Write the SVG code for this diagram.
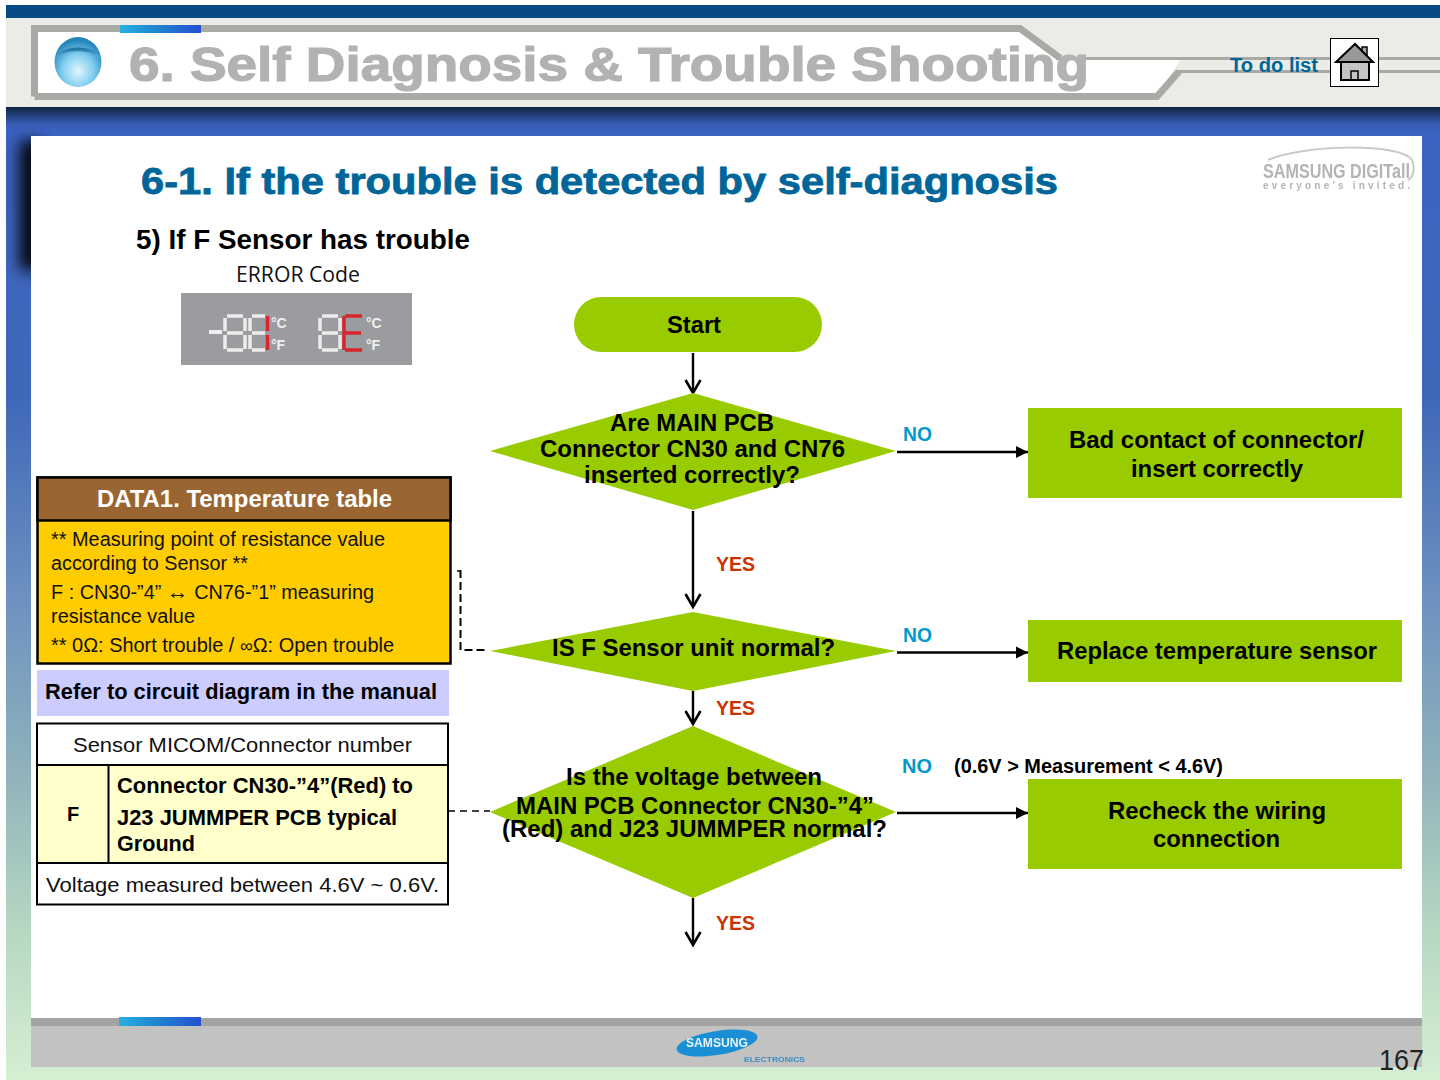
<svg xmlns="http://www.w3.org/2000/svg" width="1440" height="1080" viewBox="0 0 1440 1080">
<style>
text{font-family:"Liberation Sans",Arial,sans-serif}
.b{font-weight:bold}
.q{font-weight:bold;font-size:24px;fill:#000}
.c{font-size:20px;fill:#111}
.no{font-weight:bold;font-size:20px;fill:#0099cc}
.yes{font-weight:bold;font-size:20px;fill:#cc3300}
.g{fill:#99cc00}
.l{stroke:#000;stroke-width:2.400;fill:none}
.d{stroke:#000;stroke-width:2;fill:none;stroke-dasharray:8 4}
.seg{fill:none;stroke:#ececec;stroke-width:3.500}
.red{fill:none;stroke:#d8262c;stroke-width:3.500}
.deg{font-size:14px;fill:#f0f0f0;font-weight:bold}
</style>
<defs>
<linearGradient id="bg" gradientUnits="userSpaceOnUse" x1="0" y1="107" x2="0" y2="1080">
<stop offset="0" stop-color="#3c62c4"/><stop offset=".3" stop-color="#3f68b8"/><stop offset=".5" stop-color="#6c90c0"/><stop offset=".68" stop-color="#8fb2bb"/><stop offset=".85" stop-color="#b8d8c2"/><stop offset="1" stop-color="#d6eed2"/>
</linearGradient>
<linearGradient id="top" x1="0" y1="0" x2="0" y2="1"><stop offset="0" stop-color="#0f2440"/><stop offset=".55" stop-color="#3558ae"/><stop offset="1" stop-color="#3c62c4" stop-opacity="0"/></linearGradient>
<linearGradient id="strip" x1="0" y1="0" x2="1" y2="0"><stop offset="0" stop-color="#28b0e0"/><stop offset=".5" stop-color="#1f80d0"/><stop offset="1" stop-color="#2450d0"/></linearGradient>
<radialGradient id="ball" cx=".5" cy=".68" r=".62"><stop offset="0" stop-color="#e2f6fc"/><stop offset=".55" stop-color="#7fcdf0"/><stop offset="1" stop-color="#2484b8"/></radialGradient>
<linearGradient id="cap" x1="0" y1="0" x2="0" y2="1"><stop offset="0" stop-color="#1c6f9f"/><stop offset="1" stop-color="#5cb8e6"/></linearGradient>
<filter id="blur" x="-20%" y="-50%" width="140%" height="200%"><feGaussianBlur stdDeviation=".6"/></filter>
<filter id="soft" x="-100%" y="-50%" width="300%" height="200%"><feGaussianBlur stdDeviation="8"/></filter>
<marker id="open" markerWidth="18" markerHeight="18" refX="14" refY="9" orient="auto" markerUnits="userSpaceOnUse"><path d="M1 1.500L14 9L1 16.500" fill="none" stroke="#000" stroke-width="2.600"/></marker>
<marker id="tri" markerWidth="14" markerHeight="14" refX="12" refY="7" orient="auto" markerUnits="userSpaceOnUse"><path d="M0 1L12 7L0 13Z" fill="#000"/></marker>
</defs>

<g id="background">
<rect width="1440" height="1080" fill="#fff"/>
<rect x="6" y="107" width="1434" height="973" fill="url(#bg)"/>
<rect x="20" y="140" width="22" height="130" fill="#000" filter="url(#soft)"/>
<rect x="6" y="107" width="1434" height="29" fill="url(#top)"/>
<rect x="6" y="5" width="1434" height="13" fill="#054a85"/>
<rect x="6" y="18" width="1434" height="89" fill="#ecece6"/>
<rect x="31" y="136" width="1391" height="890" fill="#fff"/>
</g>

<g id="header">
<path d="M35 29H1019L1062 60H1180L1157 96.500H35Z" fill="#fff"/>
<path d="M34.500 96.500V28.500H1020L1060 58" fill="none" stroke="#a8aaa6" stroke-width="7"/>
<path d="M34.500 96.500H1157L1179 71.500" fill="none" stroke="#a8aaa6" stroke-width="7"/>
<path d="M1056 58.500H1440M1177 71.500H1440" fill="none" stroke="#a8aaa6" stroke-width="3"/>
<rect x="120" y="25" width="81" height="8" fill="url(#strip)"/>
<ellipse cx="78" cy="62" rx="23.500" ry="25" fill="url(#ball)"/>
<path d="M56 58C60 44 96 44 100 58C92 49 64 49 56 58Z" fill="url(#cap)"/>
<text class="b" x="129" y="81" font-size="48" fill="#b2b2b2" stroke="#b2b2b2" stroke-width="1.200" textLength="960" lengthAdjust="spacingAndGlyphs">6. Self Diagnosis &amp; Trouble Shooting</text>
<text class="b" x="1230" y="72" font-size="20" fill="#006699" textLength="88" lengthAdjust="spacingAndGlyphs">To do list</text>
</g>

<g id="home">
<rect x="1330.500" y="38.500" width="48" height="48" fill="#fff" stroke="#000"/>
<rect x="1362" y="47" width="5" height="10" fill="#aaa" stroke="#000" stroke-width="1.500"/>
<rect x="1341" y="62" width="28" height="18" fill="#c4c4c4" stroke="#000" stroke-width="2"/>
<path d="M1336 62L1355 44L1373 62Z" fill="#999" stroke="#000" stroke-width="2"/>
<path d="M1351 80V71H1358V80" fill="none" stroke="#000" stroke-width="1.500"/>
</g>

<g id="brand">
<path d="M1268 160C1300 145 1400 142 1412 160C1416 170 1412 178 1408 180" fill="none" stroke="#c8c8c8" stroke-width="2"/>
<text class="b" x="1263" y="178" font-size="20" fill="#b4b4b4" textLength="147" lengthAdjust="spacingAndGlyphs" filter="url(#blur)">SAMSUNG DIGITall</text>
<text class="b" x="1263" y="189" font-size="10" fill="#b4b4b4" textLength="147" lengthAdjust="spacing" filter="url(#blur)">everyone's invited.</text>
</g>

<g id="headings">
<text class="b" x="141" y="194" font-size="36" fill="#006699" stroke="#006699" stroke-width=".8" textLength="917" lengthAdjust="spacingAndGlyphs">6-1. If the trouble is detected by self-diagnosis</text>
<text class="b" x="136" y="249" font-size="27" fill="#000" textLength="334" lengthAdjust="spacingAndGlyphs">5) If F Sensor has trouble</text>
<text x="236" y="282" font-size="22" fill="#111" style="font-family:'Open Sans',sans-serif" textLength="124" lengthAdjust="spacingAndGlyphs">ERROR Code</text>
</g>

<g id="error-display">
<rect x="181" y="293" width="231" height="72" fill="#9a9c9f"/>
<path d="M209 332H222" stroke="#f0f0f0" stroke-width="4" fill="none"/>
<path class="seg" d="M227 316H243M225 318V331M245 318V331M227 333H243M225 335V349M245 335V349M227 350H243"/>
<path class="seg" d="M252 316H265M250 318V331M250 335V349M252 333H265M252 350H265"/>
<path class="red" d="M267.500 316V331M267.500 335V350"/>
<text class="deg" x="271" y="328">°C</text><text class="deg" x="271" y="350">°F</text>
<path class="seg" d="M322 316H338M320 318V331M340 318V331M322 333H338M320 335V349M340 335V349M322 350H338"/>
<path class="red" d="M345 316H362M345 333H361M345 350H362M344 316V350"/>
<text class="deg" x="366" y="328">°C</text><text class="deg" x="366" y="350">°F</text>
</g>

<g id="connectors">
<path class="l" d="M693 353V393" marker-end="url(#open)"/>
<path class="l" d="M693 511V607" marker-end="url(#open)"/>
<path class="l" d="M693 691V724" marker-end="url(#open)"/>
<path class="l" d="M693 898V945" marker-end="url(#open)"/>
<path class="l" d="M897 452H1028" marker-end="url(#tri)"/>
<path class="l" d="M897 652.500H1028" marker-end="url(#tri)"/>
<path class="l" d="M897 813H1028" marker-end="url(#tri)"/>
<path class="d" d="M460.500 570V650H488"/>
<path d="M457 571H461" stroke="#000" stroke-width="1.500"/>
<path d="M448 811H490" stroke="#000" stroke-width="1.500" stroke-dasharray="7 5" fill="none"/>
</g>

<g id="start">
<rect class="g" x="574" y="297" width="248" height="55" rx="27.500"/>
<text class="q" x="667" y="333" textLength="54" lengthAdjust="spacingAndGlyphs">Start</text>
</g>

<g id="decision-connector">
<path class="g" d="M490 451L693 393L896 451L693 510Z"/>
<text class="q" x="610" y="431" textLength="164" lengthAdjust="spacingAndGlyphs">Are MAIN PCB</text>
<text class="q" x="540" y="457" textLength="305" lengthAdjust="spacingAndGlyphs">Connector CN30 and CN76</text>
<text class="q" x="584" y="483" textLength="216" lengthAdjust="spacingAndGlyphs">inserted correctly?</text>
</g>
<g id="decision-sensor">
<path class="g" d="M490 651L693 612L896 651L693 691Z"/>
<text class="q" x="552" y="656" textLength="283" lengthAdjust="spacingAndGlyphs">IS F Sensor unit normal?</text>
</g>
<g id="decision-voltage">
<path class="g" d="M490 812L693 726L896 812L693 898Z"/>
<text class="q" x="566" y="785" textLength="256" lengthAdjust="spacingAndGlyphs">Is the voltage between</text>
<text class="q" x="516" y="814" textLength="358" lengthAdjust="spacingAndGlyphs">MAIN PCB Connector CN30-”4”</text>
<text class="q" x="502" y="837" textLength="385" lengthAdjust="spacingAndGlyphs">(Red) and J23 JUMMPER normal?</text>
</g>

<g id="box-bad-contact">
<rect class="g" x="1028" y="408" width="374" height="90"/>
<text class="q" x="1069" y="448" textLength="295" lengthAdjust="spacingAndGlyphs">Bad contact of connector/</text>
<text class="q" x="1131" y="477" textLength="172" lengthAdjust="spacingAndGlyphs">insert correctly</text>
</g>
<g id="box-replace">
<rect class="g" x="1028" y="620" width="374" height="62"/>
<text class="q" x="1057" y="659" textLength="320" lengthAdjust="spacingAndGlyphs">Replace temperature sensor</text>
</g>
<g id="box-recheck">
<rect class="g" x="1028" y="779" width="374" height="90"/>
<text class="q" x="1108" y="819" textLength="218" lengthAdjust="spacingAndGlyphs">Recheck the wiring</text>
<text class="q" x="1153" y="847" textLength="127" lengthAdjust="spacingAndGlyphs">connection</text>
</g>

<g id="labels">
<text class="no" x="903" y="441" textLength="29" lengthAdjust="spacingAndGlyphs">NO</text>
<text class="no" x="903" y="642" textLength="29" lengthAdjust="spacingAndGlyphs">NO</text>
<text class="no" x="902" y="773" textLength="30" lengthAdjust="spacingAndGlyphs">NO</text>
<text class="b" x="954" y="773" font-size="20" fill="#000" textLength="269" lengthAdjust="spacingAndGlyphs">(0.6V &gt; Measurement &lt; 4.6V)</text>
<text class="yes" x="716" y="571" textLength="39" lengthAdjust="spacingAndGlyphs">YES</text>
<text class="yes" x="716" y="715" textLength="39" lengthAdjust="spacingAndGlyphs">YES</text>
<text class="yes" x="716" y="930" textLength="39" lengthAdjust="spacingAndGlyphs">YES</text>
</g>

<g id="data-table">
<rect x="37.500" y="477.500" width="413" height="186" fill="#ffcc00" stroke="#000" stroke-width="2.500"/>
<rect x="37.500" y="477.500" width="413" height="43" fill="#996633" stroke="#000" stroke-width="2.500"/>
<text class="b" x="97" y="507" font-size="24" fill="#fff" textLength="295" lengthAdjust="spacingAndGlyphs">DATA1. Temperature table</text>
<text class="c" x="51" y="546" textLength="334" lengthAdjust="spacingAndGlyphs">** Measuring point of resistance value</text>
<text class="c" x="51" y="570" textLength="197" lengthAdjust="spacingAndGlyphs">according to Sensor **</text>
<text class="c" x="51" y="599" textLength="323" lengthAdjust="spacingAndGlyphs">F : CN30-”4” <tspan font-size="22">↔</tspan> CN76-”1” measuring</text>
<text class="c" x="51" y="623" textLength="144" lengthAdjust="spacingAndGlyphs">resistance value</text>
<text class="c" x="51" y="652" textLength="343" lengthAdjust="spacingAndGlyphs">** 0Ω: Short trouble / <tspan font-size="18">∞</tspan>Ω: Open trouble</text>
</g>

<g id="refer-note">
<rect x="37" y="670" width="412" height="46" fill="#ccccff"/>
<text class="b" x="45" y="699" font-size="22" fill="#000" textLength="392" lengthAdjust="spacingAndGlyphs">Refer to circuit diagram in the manual</text>
</g>

<g id="sensor-table">
<rect x="37" y="723" width="411" height="182" fill="#fff"/>
<rect x="37" y="765" width="411" height="98" fill="#ffffcc"/>
<path d="M37 723.500H448V904.500H37ZM37 765H448M37 863H448M108.500 765V863" fill="none" stroke="#000" stroke-width="2"/>
<text class="c" x="73" y="752" font-size="21" textLength="339" lengthAdjust="spacingAndGlyphs">Sensor MICOM/Connector number</text>
<text class="b" x="67" y="821" font-size="20" fill="#000">F</text>
<text class="b" x="117" y="793" font-size="22" fill="#000" textLength="296" lengthAdjust="spacingAndGlyphs">Connector CN30-”4”(Red) to</text>
<text class="b" x="117" y="825" font-size="22" fill="#000" textLength="280" lengthAdjust="spacingAndGlyphs">J23 JUMMPER PCB typical</text>
<text class="b" x="117" y="851" font-size="22" fill="#000" textLength="78" lengthAdjust="spacingAndGlyphs">Ground</text>
<text class="c" x="46" y="892" font-size="21" textLength="393" lengthAdjust="spacingAndGlyphs">Voltage measured between 4.6V ~ 0.6V.</text>
</g>

<g id="footer">
<rect x="31" y="1018" width="1391" height="49" fill="#c2c2c0"/>
<rect x="31" y="1018" width="1391" height="8" fill="#a3a3a3"/>
<rect x="119" y="1017" width="82" height="9" fill="url(#strip)"/>
<ellipse cx="717" cy="1043" rx="41" ry="12" fill="#1b8fd6" transform="rotate(-9 717 1043)"/>
<text class="b" x="686" y="1047" font-size="13" fill="#e8f4fc" textLength="62" lengthAdjust="spacingAndGlyphs" filter="url(#blur)">SAMSUNG</text>
<text class="b" x="744" y="1062" font-size="8" fill="#3a8fc8" textLength="61" lengthAdjust="spacingAndGlyphs" filter="url(#blur)">ELECTRONICS</text>
<text x="1379" y="1070" font-size="29" fill="#222" textLength="45" lengthAdjust="spacingAndGlyphs">167</text>
</g>
</svg>
